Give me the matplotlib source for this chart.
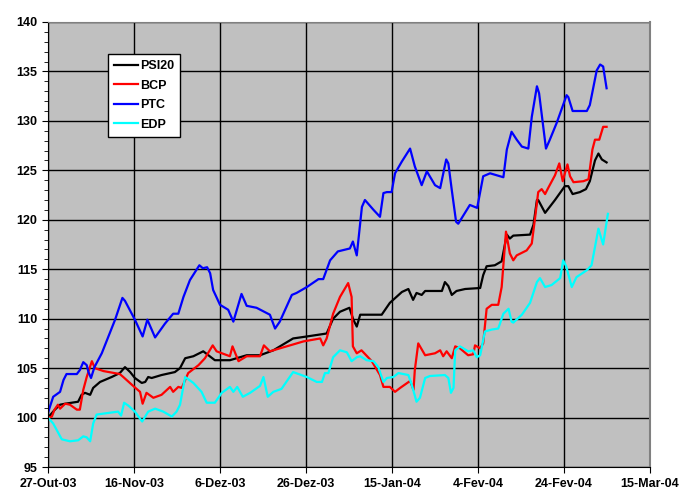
import matplotlib
matplotlib.use("Agg")
import matplotlib.pyplot as plt
import matplotlib.dates as mdates
from matplotlib.ticker import MultipleLocator, FixedLocator
import numpy as np
import datetime as dt

# days counted from 27-Out-03 (base 100)
start = dt.date(2003, 10, 27)

psi20_days = [0, 1.6, 2.8, 4.0, 7.0, 7.8, 8.6, 9.8, 10.5, 12.1, 14.8, 16.7, 17.9, 19.1, 20.2,
              21.8, 22.6, 23.3, 24.1, 26.4, 29.5, 30.7, 31.9, 33.8, 36.1, 38.8, 42.3, 46.2,
              49.3, 52.4, 57.0, 60.2, 64.8, 66.3, 67.9, 70.1, 71.0, 71.8, 72.6, 74.1, 77.6,
              79.5, 82.3, 83.8, 84.9, 85.7, 86.9, 87.7, 91.6, 92.3, 93.1, 93.9, 95.0, 97.0,
              100.5, 101.2, 102.0, 103.9, 105.5, 106.7, 107.4, 108.2, 112.1, 112.9, 113.7,
              114.0, 115.6, 117.9, 120.2, 121.0, 122.0, 123.7, 125.1, 126.0, 127.2, 128.0,
              128.8, 129.9]
psi20 = [100, 100.8, 101.3, 101.4, 101.6, 102.3, 102.5, 102.3, 103.0, 103.6, 104.1, 104.5,
         105.1, 104.6, 104.0, 103.5, 103.6, 104.1, 104.0, 104.3, 104.6, 105.0, 106.0, 106.2,
         106.7, 105.8, 105.8, 106.3, 106.3, 106.8, 108.0, 108.2, 108.5, 110.0, 110.7, 111.1,
         109.9, 109.2, 110.4, 110.4, 110.4, 111.6, 112.7, 113.0, 111.9, 112.6, 112.4, 112.8,
         112.8, 113.7, 113.3, 112.4, 112.8, 113.0, 113.1, 114.4, 115.3, 115.4, 115.8, 118.5,
         118.1, 118.4, 118.5, 119.5, 122.0, 122.0, 120.7, 122.0, 123.4, 123.4, 122.6, 122.8,
         123.1, 123.9, 126.0, 126.7, 126.1, 125.8]

bcp_days = [0, 0.9, 1.5, 2.3, 2.8, 4.0, 5.1, 6.7, 7.4, 8.2, 9.0, 10.2, 10.9, 12.9, 16.7, 17.5,
            19.8, 21.4, 22.0, 22.9, 24.5, 26.4, 28.4, 29.1, 30.3, 31.1, 32.6, 35.0, 36.5, 38.3,
            39.2, 42.3, 42.9, 44.3, 46.2, 49.3, 50.2, 51.6, 55.5, 59.4, 63.3, 64.0, 64.8, 66.3,
            67.9, 69.8, 70.6, 70.9, 71.8, 72.9, 75.3, 77.2, 78.0, 79.5, 80.7, 81.9, 84.2, 85.0,
            85.3, 86.1, 87.7, 90.0, 91.2, 91.9, 92.7, 93.9, 94.7, 95.8, 97.7, 98.9, 99.3, 100.5,
            101.2, 102.0, 103.2, 104.7, 105.5, 106.5, 107.4, 108.2, 109.0, 111.3, 112.5, 113.3,
            114.0, 114.8, 115.6, 116.3, 117.9, 118.9, 119.7, 120.2, 120.8, 121.4, 122.2, 124.5,
            125.7, 126.6, 127.2, 128.2, 129.1, 129.9]
bcp = [100, 100.1, 100.8, 101.3, 100.9, 101.4, 101.3, 100.8, 100.8, 102.8, 104.1, 105.7, 105.0,
       104.7, 104.4, 104.1, 103.2, 102.6, 101.4, 102.5, 102.0, 102.3, 103.1, 102.6, 103.1, 103.0,
       104.5, 105.3, 106.0, 107.3, 106.7, 106.2, 107.2, 105.7, 106.2, 106.2, 107.3, 106.7, 107.2,
       107.7, 108.0, 107.3, 108.0, 110.5, 112.2, 113.6, 112.2, 107.2, 106.5, 106.8, 105.7, 104.3,
       103.1, 103.1, 102.6, 103.0, 103.7, 102.8, 104.8, 107.5, 106.3, 106.5, 106.8, 106.2, 106.7,
       106.0, 107.2, 107.0, 106.3, 106.4, 107.3, 107.0, 107.5, 111.0, 111.4, 111.4, 113.2, 118.8,
       116.6, 115.9, 116.4, 116.9, 117.6, 120.3, 122.8, 123.1, 122.6, 123.2, 124.5, 125.7, 123.9,
       124.7, 125.6, 124.4, 123.8, 123.9, 124.1, 127.1, 128.1, 128.1, 129.4, 129.4]

ptc_days = [0, 1.2, 2.8, 3.6, 4.3, 6.7, 7.4, 8.2, 9.0, 9.4, 10.0, 10.8, 12.5, 15.6, 17.3, 17.9,
            20.2, 22.0, 23.1, 24.9, 27.2, 29.1, 30.3, 31.5, 33.0, 35.2, 36.0, 37.0, 37.7, 38.4,
            40.0, 41.9, 43.1, 45.0, 46.2, 48.5, 51.6, 52.8, 53.9, 56.7, 57.8, 60.2, 62.9, 64.0,
            65.6, 67.4, 70.2, 70.9, 71.8, 73.0, 73.7, 75.7, 77.2, 78.0, 78.8, 79.9, 80.7, 82.3,
            84.2, 85.3, 86.9, 88.1, 90.0, 91.2, 92.6, 93.1, 93.9, 94.9, 95.4, 98.1, 99.8, 101.2,
            102.8, 105.9, 106.7, 107.8, 109.0, 110.2, 111.7, 112.5, 113.7, 114.2, 115.8, 116.7,
            118.3, 120.6, 121.0, 122.0, 125.3, 126.0, 127.6, 128.4, 129.1, 129.9]
ptc = [100.5, 102.1, 102.6, 103.8, 104.4, 104.4, 104.8, 105.6, 105.3, 104.6, 104.0, 105.1, 106.5,
       109.9, 112.1, 111.8, 109.9, 108.2, 109.9, 108.1, 109.5, 110.5, 110.5, 112.2, 113.9, 115.4,
       115.1, 115.2, 114.6, 112.9, 111.4, 110.9, 109.7, 112.5, 111.3, 111.1, 110.4, 109.0, 109.7,
       112.4, 112.6, 113.2, 114.0, 114.0, 115.9, 116.8, 117.1, 117.8, 116.4, 121.3, 122.0, 121.0,
       120.3, 122.7, 122.8, 122.8, 124.7, 125.9, 127.2, 125.4, 123.5, 124.9, 123.5, 123.2, 126.1,
       125.7, 123.0, 119.8, 119.6, 121.5, 121.2, 124.4, 124.7, 124.3, 127.1, 128.9, 128.1, 127.4,
       127.2, 130.4, 133.5, 132.8, 127.2, 128.1, 129.8, 132.6, 132.4, 131.0, 131.0, 131.6, 135.1,
       135.7, 135.5, 133.3]

edp_days = [0, 1.2, 3.2, 5.1, 7.0, 8.2, 9.0, 9.8, 10.5, 11.3, 12.9, 16.3, 17.0, 17.7, 18.7, 20.2,
            21.9, 23.3, 24.9, 26.8, 28.8, 29.9, 30.7, 31.2, 31.9, 33.8, 35.7, 36.9, 38.8, 40.4,
            42.3, 43.1, 44.0, 45.3, 47.0, 49.3, 50.1, 51.1, 52.4, 54.3, 57.0, 60.2, 62.5, 63.7,
            64.4, 65.2, 66.3, 67.9, 69.5, 70.6, 71.8, 72.6, 74.1, 75.7, 76.8, 78.0, 78.8, 80.3,
            81.5, 83.8, 84.6, 85.7, 86.5, 87.7, 88.8, 92.3, 93.1, 93.7, 94.3, 94.7, 95.8, 97.7,
            98.9, 99.7, 100.5, 101.6, 103.2, 104.7, 105.9, 107.1, 107.8, 108.2, 110.2, 112.1,
            113.7, 114.4, 115.6, 117.1, 119.1, 119.8, 120.5, 121.8, 122.9, 125.3, 126.4, 128.0,
            129.1, 130.2]
edp = [100, 99.4, 97.8, 97.6, 97.7, 98.1, 98.0, 97.6, 99.4, 100.3, 100.4, 100.6, 100.2, 101.5,
       101.2, 100.6, 99.6, 100.6, 100.9, 100.6, 100.1, 100.6, 101.3, 102.5, 104.1, 103.5, 102.6,
       101.5, 101.5, 102.5, 103.1, 102.6, 103.1, 102.1, 102.5, 103.2, 104.1, 102.1, 102.6, 102.9,
       104.6, 104.1, 103.6, 103.6, 104.5, 104.5, 106.1, 106.8, 106.6, 105.7, 106.1, 106.2, 105.8,
       105.7, 105.1, 103.6, 104.0, 104.1, 104.5, 104.3, 103.3, 101.6, 102.0, 104.0, 104.2, 104.3,
       104.0, 102.5, 103.0, 106.8, 107.2, 106.7, 106.8, 106.1, 106.3, 108.7, 108.9, 109.0, 110.5,
       111.0, 109.7, 109.6, 110.4, 111.6, 113.7, 114.1, 113.2, 113.4, 114.1, 115.9, 115.3, 113.2,
       114.2, 114.9, 115.4, 119.1, 117.5, 120.6]

series = [("PSI20", psi20_days, psi20, "black"),
          ("BCP", bcp_days, bcp, "red"),
          ("PTC", ptc_days, ptc, "blue"),
          ("EDP", edp_days, edp, "cyan")]

tick_labels = ["27-Out-03", "16-Nov-03", "6-Dez-03", "26-Dez-03",
               "15-Jan-04", "4-Fev-04", "24-Fev-04", "15-Mar-04"]

plt.rcParams["font.family"] = ["Liberation Sans", "DejaVu Sans"]

t0 = mdates.date2num(start)

fig = plt.figure(figsize=(7, 5), dpi=100)
ax = fig.add_axes([0.0686, 0.066, 0.86, 0.89])
ax.set_facecolor("#c0c0c0")

for name, days, vals, col in series:
    ax.plot(t0 + np.array(days), vals, color=col, lw=1.6, label=name)

ax.set_xlim(t0, t0 + 140)
ax.set_ylim(95, 140)
ax.xaxis.set_major_locator(FixedLocator([t0 + 20 * i for i in range(8)]))
ax.set_xticklabels(tick_labels)
ax.yaxis.set_major_locator(MultipleLocator(5))
ax.yaxis.set_minor_locator(MultipleLocator(1))
ax.grid(True, which="major", color="black", lw=1)
ax.set_axisbelow(True)

for lab in ax.get_xticklabels() + ax.get_yticklabels():
    lab.set_fontweight("bold")
    lab.set_fontsize(9)
ax.tick_params(which="major", direction="out", length=4, color="black")
ax.tick_params(which="minor", direction="out", length=3, color="black")
ax.tick_params(axis="x", pad=4)

ax.spines["top"].set_color("#808080")
ax.spines["right"].set_color("#808080")
ax.spines["right"].set_linewidth(1.5)
ax.spines["left"].set_color("black")
ax.spines["bottom"].set_color("black")

leg = ax.legend(loc="upper left", bbox_to_anchor=(0.1, 0.928), borderaxespad=0,
                frameon=True, fancybox=False,
                prop={"weight": "bold", "size": 9}, handlelength=1.9, handletextpad=0.15,
                borderpad=0.5, labelspacing=0.6)
leg.get_frame().set_edgecolor("black")
leg.get_frame().set_facecolor("white")
leg.get_frame().set_alpha(1)

fig.savefig("out.png", dpi=100)
